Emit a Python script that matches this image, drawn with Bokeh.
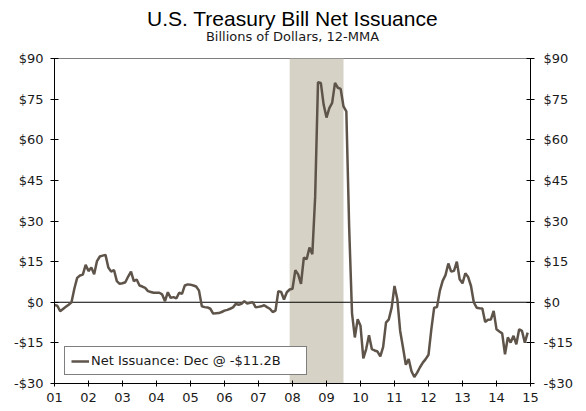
from bokeh.plotting import figure
from bokeh.models import (LinearAxis, FixedTicker, Span, BoxAnnotation, Title,
                          Legend, LegendItem, Range1d)
from bokeh.embed import file_html
from bokeh.resources import INLINE

# ---- data (monthly, Jan 2001 .. Dec 2014), billions of dollars, 12-MMA ----
start_year = 2001
net_issuance = [
    # 2001
    -1.0, -1.3, -3.3, -2.5, -1.7, -0.9, 0.0, 5.0, 9.0, 9.9, 10.2, 13.8,
    # 2002
    11.5, 12.8, 10.3, 15.2, 16.9, 17.2, 17.5, 12.8, 11.3, 11.9, 7.8, 6.8,
    # 2003
    7.0, 7.4, 9.5, 11.3, 7.8, 8.4, 6.2, 5.8, 5.3, 4.1, 3.8, 3.5,
    # 2004
    3.5, 3.5, 2.9, 0.4, 3.7, 1.6, 1.9, 1.4, 3.5, 3.1, 6.2, 6.6,
    # 2005
    6.5, 6.2, 5.8, 4.3, -1.5, -1.8, -1.9, -2.4, -4.2, -4.1, -4.0, -3.6,
    # 2006
    -3.1, -2.8, -2.4, -1.9, -0.6, -0.9, -0.6, 0.4, -0.5, -0.2, 0.0, -1.9,
    # 2007
    -1.7, -1.5, -1.1, -1.8, -2.4, -3.6, -3.1, 4.1, 3.8, 1.0, 3.7, 4.7,
    # 2008
    5.0, 11.8, 10.3, 6.8, 16.5, 15.9, 20.2, 17.7, 39.0, 81.2, 81.0, 72.9,
    # 2009
    68.2, 71.7, 73.6, 81.0, 79.2, 78.8, 72.3, 70.5, 27.6, -4.0, -13.0, -6.3,
    # 2010
    -8.7, -20.7, -17.3, -12.2, -17.3, -17.8, -18.2, -20.0, -16.5, -7.5, -6.3, -2.0,
    # 2011
    6.0, 1.1, -10.6, -16.7, -23.1, -21.0, -25.5, -27.6, -26.0, -24.0, -22.3, -21.0,
    # 2012
    -19.4, -10.0, -2.0, -1.8, 4.2, 7.9, 10.0, 14.3, 11.3, 11.6, 15.0, 8.5,
    # 2013
    7.0, 10.7, 9.3, 6.0, -0.1, -2.0, -2.2, -2.3, -7.3, -6.5, -6.4, -3.2,
    # 2014
    -10.0, -10.8, -11.5, -19.2, -13.0, -14.9, -12.4, -15.5, -10.0, -10.6, -14.9, -11.2,
]
recession_start = 2007 + 11 / 12   # Dec 2007
recession_end = 2009 + 6 / 12      # Jun 2009

x_ticks = list(range(2001, 2016))
x_tick_labels = ["01", "02", "03", "04", "05", "06", "07", "08",
                 "09", "10", "11", "12", "13", "14", "15"]
y_ticks = [-30, -15, 0, 15, 30, 45, 60, 75, 90]
y_tick_labels = ["-$30", "-$15", "$0", "$15", "$30", "$45", "$60", "$75", "$90"]

title_text = "U.S. Treasury Bill Net Issuance"
subtitle_text = "Billions of Dollars, 12-MMA"

months = [start_year + i / 12 for i in range(len(net_issuance))]
legend_label = "Net Issuance: Dec @ -$%.1fB" % abs(net_issuance[-1])

# ---- style ----
LINE = "#5e544a"
SHADE = "#d6d2c5"
TXT = "#1a1a1a"
FONT = "DejaVu Sans"

p = figure(width=586, height=411, output_backend="svg", toolbar_location=None,
           title=None, x_range=Range1d(2001, 2015), y_range=Range1d(-30, 90),
           min_border_left=54, min_border_right=56, min_border_top=58,
           min_border_bottom=28, background_fill_color="white",
           border_fill_color="white")
p.outline_line_color = "#7f7f7f"
p.grid.visible = False

p.add_layout(BoxAnnotation(left=recession_start, right=recession_end,
                           fill_color=SHADE, fill_alpha=1.0, line_alpha=0,
                           level="underlay"))
p.add_layout(Span(location=0, dimension="width", line_color="black",
                  line_width=1, level="underlay"))

r = p.line(months, net_issuance, line_color=LINE, line_width=2.5)

def style_axis(ax, ticks, labels, tin, tout, standoff):
    ax.ticker = FixedTicker(ticks=ticks)
    ax.major_label_overrides = {t: l for t, l in zip(ticks, labels)}
    ax.minor_tick_line_color = None
    ax.major_tick_in = tin
    ax.major_tick_out = tout
    ax.axis_line_color = "black"
    ax.major_tick_line_color = "black"
    ax.major_label_text_font = FONT
    ax.major_label_text_font_size = "13px"
    ax.major_label_text_color = TXT
    ax.major_label_standoff = standoff

style_axis(p.xaxis[0], x_ticks, x_tick_labels, 3, 3, 6)
style_axis(p.yaxis[0], y_ticks, y_tick_labels, 4, 4, 7)
right_axis = LinearAxis()
style_axis(right_axis, y_ticks, y_tick_labels, 4, 4, 9)
p.add_layout(right_axis, "right")

legend = Legend(items=[LegendItem(label=legend_label, renderers=[r])],
                location=(10, 8), margin=0, padding=6, spacing=0,
                glyph_width=18, glyph_height=14, label_height=14,
                label_width=209, label_standoff=2,
                label_text_font=FONT, label_text_font_size="13px",
                label_text_color=TXT, border_line_color="black",
                border_line_width=1, background_fill_color="white",
                background_fill_alpha=1.0)
p.add_layout(legend)

p.add_layout(Title(text=subtitle_text, align="center",
                   text_font=FONT, text_font_size="13px",
                   text_font_style="normal", text_color=TXT, standoff=29),
             "above")
p.add_layout(Title(text=title_text, align="center",
                   text_font="Liberation Sans", text_font_size="21px",
                   text_font_style="normal", text_color="black", standoff=-34),
             "above")

open("out.html", "w").write(file_html(p, INLINE))
